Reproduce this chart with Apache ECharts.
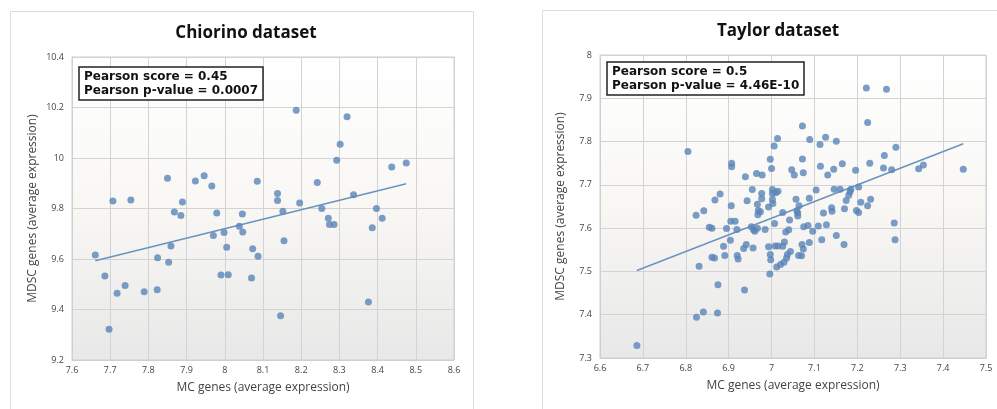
<!DOCTYPE html>
<html><head><meta charset="utf-8">
<script src="https://cdn.jsdelivr.net/npm/echarts@6/dist/echarts.min.js"></script>
<style>html,body{margin:0;padding:0;background:#fff}#c{width:997px;height:409px}</style>
</head><body><div id="c"></div>
<script>
// Chiorino dataset
const chiorinoMC = [7.661,7.686,7.707,7.697,7.718,7.739,7.754,7.789,7.823,7.824,7.850,7.853,7.859,7.868,7.885,7.889,7.923,7.946,7.966,7.970,7.979,7.990,7.998,8.005,8.009,8.038,8.046,8.047,8.070,8.073,8.085,8.087,8.138,8.138,8.146,8.152,8.155,8.187,8.196,8.242,8.254,8.271,8.274,8.286,8.293,8.302,8.320,8.337,8.376,8.386,8.397,8.412,8.437,8.475];
const chiorinoMDSC = [9.616,9.533,9.830,9.322,9.464,9.495,9.834,9.470,9.478,9.605,9.920,9.587,9.651,9.786,9.772,9.826,9.909,9.930,9.889,9.693,9.782,9.537,9.705,9.647,9.538,9.730,9.778,9.707,9.525,9.641,9.908,9.611,9.859,9.832,9.375,9.789,9.672,10.189,9.822,9.903,9.800,9.761,9.737,9.737,9.991,10.054,10.163,9.854,9.430,9.724,9.800,9.761,9.964,9.980];
const chiorinoTrendX = [7.661, 8.475];
const chiorinoTrendY = [9.593, 9.898];

// Taylor dataset
const taylorMC = [6.686,6.805,6.824,6.825,6.831,6.841,6.842,6.855,6.861,6.861,6.867,6.868,6.875,6.874,6.880,6.888,6.891,6.895,6.904,6.905,6.906,6.907,6.907,6.915,6.919,6.920,6.922,6.935,6.937,6.939,6.941,6.943,6.953,6.955,6.957,6.958,6.961,6.965,6.967,6.967,6.968,6.969,6.977,6.977,6.978,6.974,6.985,6.993,6.993,6.996,6.997,6.997,6.998,7.000,7.002,7.002,7.002,7.003,7.006,7.007,7.008,7.010,7.012,7.014,7.015,7.015,7.021,7.026,7.026,7.029,7.030,7.033,7.035,7.037,7.040,7.042,7.044,7.047,7.053,7.057,7.059,7.061,7.061,7.063,7.064,7.070,7.071,7.072,7.072,7.074,7.074,7.075,7.085,7.088,7.088,7.089,7.096,7.104,7.109,7.113,7.114,7.117,7.121,7.126,7.128,7.131,7.140,7.141,7.145,7.146,7.151,7.151,7.160,7.165,7.169,7.170,7.174,7.180,7.183,7.185,7.196,7.198,7.203,7.203,7.208,7.221,7.224,7.224,7.229,7.231,7.261,7.263,7.268,7.280,7.286,7.290,7.288,7.343,7.354,7.447];
const taylorMDSC = [7.329,7.777,7.630,7.394,7.512,7.406,7.640,7.602,7.600,7.533,7.531,7.665,7.469,7.404,7.679,7.558,7.537,7.599,7.572,7.616,7.652,7.750,7.742,7.616,7.597,7.537,7.529,7.553,7.457,7.719,7.562,7.663,7.603,7.689,7.554,7.596,7.593,7.726,7.600,7.655,7.631,7.641,7.680,7.668,7.723,7.638,7.597,7.649,7.557,7.494,7.759,7.539,7.527,7.738,7.689,7.680,7.666,7.657,7.790,7.611,7.559,7.682,7.510,7.807,7.685,7.559,7.516,7.636,7.558,7.521,7.568,7.591,7.531,7.539,7.596,7.619,7.546,7.735,7.723,7.667,7.640,7.635,7.628,7.537,7.652,7.536,7.562,7.836,7.760,7.728,7.552,7.603,7.606,7.669,7.567,7.805,7.593,7.688,7.605,7.793,7.743,7.573,7.635,7.810,7.608,7.723,7.647,7.639,7.736,7.690,7.583,7.801,7.690,7.749,7.562,7.645,7.664,7.676,7.684,7.690,7.734,7.641,7.695,7.636,7.660,7.924,7.844,7.652,7.750,7.667,7.739,7.768,7.921,7.735,7.612,7.787,7.573,7.737,7.746,7.736];
const taylorTrendX = [6.686, 7.447];
const taylorTrendY = [7.502, 7.795];

const titles = ['Chiorino dataset', 'Taylor dataset'];
const pearsonText = [
  ['Pearson score = 0.45', 'Pearson p-value = 0.0007'],
  ['Pearson score = 0.5', 'Pearson p-value = 4.46E-10']
];
const xLabel = 'MC genes (average expression)';
const yLabel = 'MDSC genes (average expression)';

const zip = (a, b) => a.map((v, i) => [v, b[i]]);
const chart = echarts.init(document.getElementById('c'));
const font = '"Open Sans", "Liberation Sans", sans-serif';
const boxFont = '"DejaVu Sans", Verdana, sans-serif';
const dotColor = '#5a85b8';
const gridBg = new echarts.graphic.LinearGradient(0, 0, 0, 1, [
  {offset: 0, color: '#ffffff'}, {offset: 0.5, color: '#f8f7f4'}, {offset: 1, color: '#e8e8e8'}
]);
const fmt1 = v => String(+(+v).toFixed(1));

function xAxis(idx, min, max) {
  return {
    type: 'value', gridIndex: idx, min, max, interval: 0.1,
    name: xLabel, nameLocation: 'middle', nameGap: 22,
    nameTextStyle: {fontFamily: font, fontSize: 12, color: '#444'},
    axisLine: {show: true, lineStyle: {color: '#cfcfcf'}},
    axisTick: {show: false},
    axisLabel: {fontFamily: font, fontSize: 9, color: '#444', margin: 6, formatter: fmt1},
    splitLine: {show: true, lineStyle: {color: '#d3d3d3'}}
  };
}
function yAxis(idx, min, max, interval) {
  return {
    type: 'value', gridIndex: idx, min, max, interval,
    name: yLabel, nameLocation: 'middle', nameGap: 33, nameRotate: 90,
    nameTextStyle: {fontFamily: font, fontSize: 12, color: '#444'},
    axisLine: {show: true, lineStyle: {color: '#cfcfcf'}},
    axisTick: {show: false},
    axisLabel: {fontFamily: font, fontSize: 9, color: '#444', margin: 8, formatter: fmt1},
    splitLine: {show: true, lineStyle: {color: '#d3d3d3'}}
  };
}
function titleBox(lines, left, top) {
  return {
    text: lines.join('\n'), left, top,
    padding: [3, 5, 2, 5],
    borderColor: '#222', borderWidth: 1.5, backgroundColor: '#fff',
    textStyle: {fontFamily: boxFont, fontSize: 12, fontWeight: 'bold', color: '#111', lineHeight: 14}
  };
}

chart.setOption({
  animation: false,
  backgroundColor: '#fff',
  graphic: [
    {type: 'rect', shape: {x: 10.5, y: 11.5, width: 463, height: 420}, style: {fill: 'none', stroke: '#dcdcdc', lineWidth: 1}},
    {type: 'rect', shape: {x: 542.5, y: 10.5, width: 470, height: 420}, style: {fill: 'none', stroke: '#dcdcdc', lineWidth: 1}}
  ],
  title: [
    {text: titles[0], left: 241, top: 20, textAlign: 'center', textStyle: {fontFamily: font, fontSize: 17, fontWeight: 'bold', color: '#111'}},
    {text: titles[1], left: 773, top: 18, textAlign: 'center', textStyle: {fontFamily: font, fontSize: 17, fontWeight: 'bold', color: '#111'}},
    titleBox(pearsonText[0], 79, 67),
    titleBox(pearsonText[1], 607, 62)
  ],
  grid: [
    {left: 72, top: 57, width: 382, height: 303, show: true, backgroundColor: gridBg, borderColor: '#cfcfcf', borderWidth: 1},
    {left: 600, top: 55, width: 386, height: 303, show: true, backgroundColor: gridBg, borderColor: '#cfcfcf', borderWidth: 1}
  ],
  xAxis: [xAxis(0, 7.6, 8.6), xAxis(1, 6.6, 7.5)],
  yAxis: [yAxis(0, 9.2, 10.4, 0.2), yAxis(1, 7.3, 8.0, 0.1)],
  series: [
    {type: 'scatter', xAxisIndex: 0, yAxisIndex: 0, symbolSize: 7, itemStyle: {color: dotColor}, data: zip(chiorinoMC, chiorinoMDSC)},
    {type: 'line', xAxisIndex: 0, yAxisIndex: 0, showSymbol: false, symbol: 'none', lineStyle: {color: '#6a93c0', width: 1.5}, data: zip(chiorinoTrendX, chiorinoTrendY), z: 1},
    {type: 'scatter', xAxisIndex: 1, yAxisIndex: 1, symbolSize: 7, itemStyle: {color: dotColor}, data: zip(taylorMC, taylorMDSC)},
    {type: 'line', xAxisIndex: 1, yAxisIndex: 1, showSymbol: false, symbol: 'none', lineStyle: {color: '#6a93c0', width: 1.5}, data: zip(taylorTrendX, taylorTrendY), z: 1}
  ]
});
</script></body></html>
